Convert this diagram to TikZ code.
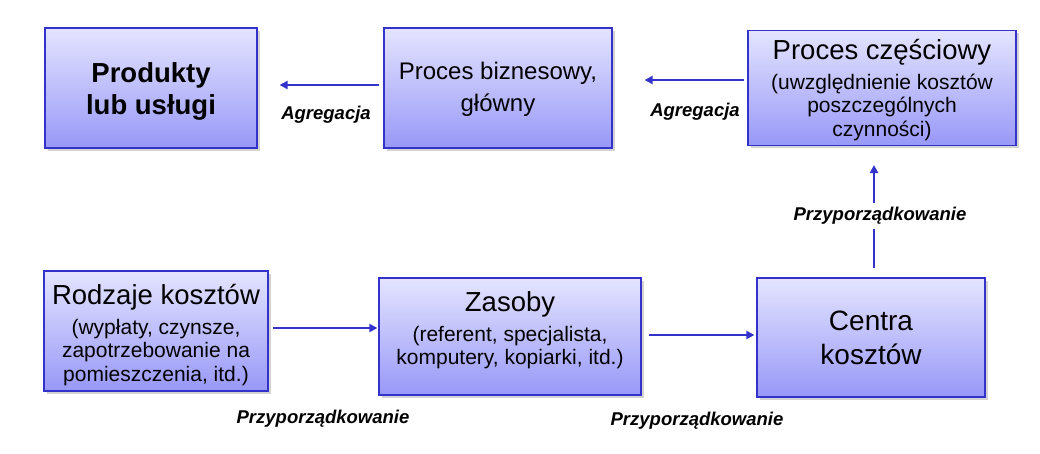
\documentclass[tikz,border=0pt]{standalone}
\usepackage{fontspec}
\setmainfont{Liberation Sans}
\usetikzlibrary{shadows,arrows.meta}
\definecolor{bord}{HTML}{3333CC}
\definecolor{topc}{HTML}{E4E4FF}
\definecolor{botc}{HTML}{9898F8}
\tikzset{
  box/.style={draw=bord, line width=1.2pt, top color=topc, bottom color=botc, inner sep=0pt,
    drop shadow={shadow xshift=2.5pt, shadow yshift=-2.5pt, opacity=0.35, fill=gray}},
  txt/.style={align=center, inner sep=0pt},
  conn/.style={draw=bord, line width=2.2pt, -{Triangle[length=8pt,width=8pt]}},
  lbl/.style={font=\fontsize{18.5}{20}\selectfont\bfseries\itshape, fill=white, inner sep=1pt},
  multi/.style={font=\fontsize{21}{23.5}\selectfont},
}
\newcommand{\mainsz}{\fontsize{27.5}{30}\selectfont}
\begin{document}
\begin{tikzpicture}[x=1pt,y=-1pt]
\useasboundingbox (0,0) rectangle (1040,453);
% boxes
\node[box, minimum width=212pt, minimum height=120pt] (prod) at (151,88) {};
\node[box, minimum width=228pt, minimum height=120pt] (biz) at (498,88) {};
\node[box, minimum width=268pt, minimum height=115pt] (czes) at (882,88) {};
\node[box, minimum width=224pt, minimum height=120pt] (rodz) at (156,331) {};
\node[box, minimum width=262pt, minimum height=117pt] (zas) at (510,336.5) {};
\node[box, minimum width=228pt, minimum height=119pt] (cent) at (871,337.5) {};
% texts
\node[txt, font={\fontsize{27.5}{32}\selectfont\bfseries}] (prod-t) at ([yshift=-3pt]prod.center) {Produkty\\lub usługi};
\node[txt, font=\fontsize{24}{32}\selectfont] (biz-t) at ([yshift=-1pt]biz.center) {Proces biznesowy,\\główny};
\node[txt, multi] (czes-t) at ([yshift=-2pt]czes.center) {\mainsz Proces częściowy\\[6pt](uwzględnienie kosztów\\poszczególnych\\czynności)};
\node[txt, multi] (rodz-t) at ([yshift=-4pt]rodz.center) {\mainsz Rodzaje kosztów\\[6pt](wypłaty, czynsze,\\zapotrzebowanie na\\pomieszczenia, itd.)};
\node[txt, multi] (zas-t) at ([yshift=6pt]zas.center) {\mainsz Zasoby\\[6pt](referent, specjalista,\\komputery, kopiarki, itd.)};
\node[txt, font=\fontsize{28}{34}\selectfont] (cent-t) at (cent.center) {Centra\\kosztów};

\coordinate (a1s) at ([xshift=-4pt]biz.west |- 0,85);
\coordinate (a1e) at ([xshift=22pt]prod.east |- 0,85);
\draw[conn] (a1s) -- (a1e);
\node[lbl] (l1) at (326,115) {Agregacja};

\coordinate (a2s) at ([xshift=-3pt]czes.west |- 0,80);
\coordinate (a2e) at ([xshift=32pt]biz.east |- 0,80);
\draw[conn] (a2s) -- (a2e);
\node[lbl] (l2) at (695,112) {Agregacja};

\coordinate (b1s) at ([xshift=4pt]rodz.east |- 0,328);
\coordinate (b1e) at ([xshift=-1pt]zas.west |- 0,328);
\draw[conn] (b1s) -- (b1e);
\node[lbl] (l3) at (323,419) {Przyporządkowanie};

\coordinate (b2s) at ([xshift=7pt]zas.east |- 0,335);
\coordinate (b2e) at ([xshift=-2pt]cent.west |- 0,335);
\draw[conn] (b2s) -- (b2e);
\node[lbl] (l4) at (697,421) {Przyporządkowanie};

\coordinate (vs) at (874,268);
\coordinate (ve) at (874,165);
\draw[conn] (vs) -- (ve);
\node[lbl, inner ysep=4pt] (l5) at (880,216) {Przyporządkowanie};
\end{tikzpicture}
\end{document}
